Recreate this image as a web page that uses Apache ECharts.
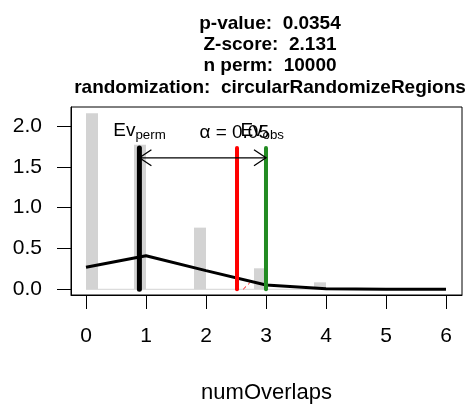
<!DOCTYPE html>
<html><head><meta charset="utf-8">
<script src="https://cdn.jsdelivr.net/npm/echarts@6/dist/echarts.min.js"></script>
<style>html,body{margin:0;padding:0;background:#fff}#c{width:469px;height:407px}</style>
</head><body><div id="c"></div>
<script>
// ---- data ----
const titleLines = ['p-value:  0.0354', 'Z-score:  2.131', 'n perm:  10000', 'randomization:  circularRandomizeRegions'];
const xTicks = [0, 1, 2, 3, 4, 5, 6];
const yTicks = [0, 0.5, 1, 1.5, 2];
const binStart = [0, 0.8, 1.8, 2.8, 3.8];
const binEnd = [0.2, 1.0, 2.0, 3.0, 4.0];
const density = [2.155, 1.77, 0.755, 0.257, 0.085];
const histRange = [0, 4];
const normX = [0, 1, 2, 3, 4, 5, 6];
const normY = [0.27, 0.41, 0.228, 0.052, 0.006, 0.0003, 0];
const evPerm = 0.89;
const alphaX = 2.517;
const evObs = 3.0;
const segTop = 1.73;
const arrowY = 1.61;
const redDashX = [2.62, 2.73];
const redDashY = [0.0, 0.08];
const labels = [
  {main: 'Ev', sub: 'perm', x: 0.892, y: 1.94},
  {main: 'α = 0.05', sub: '', x: 2.47, y: 1.92},
  {main: 'Ev', sub: 'obs', x: 2.937, y: 1.94}
];
const xName = 'numOverlaps';

// ---- chart ----
const FONT = 'Liberation Sans, Arial, Helvetica, sans-serif';
const chart = echarts.init(document.getElementById('c'), null, {renderer: 'canvas'});
const mctx = document.createElement('canvas').getContext('2d');
function tw(t, fs) { mctx.font = fs + 'px "Liberation Sans"'; return mctx.measureText(t).width; }

const option = {
  animation: false,
  backgroundColor: '#fff',
  title: {
    text: titleLines.join('\n'),
    left: 265, top: 8, textAlign: 'center',
    textStyle: {fontFamily: FONT, fontWeight: 'bold', fontSize: 19, lineHeight: 21.3, color: '#000'}
  },
  grid: {left: 71, right: 7, top: 107, bottom: 112, show: true, borderColor: '#000', borderWidth: 1, backgroundColor: 'transparent'},
  xAxis: {
    type: 'value', min: -0.25, max: 6.267,
    axisLine: {show: true, onZero: false, lineStyle: {color: '#000', width: 1}}, splitLine: {show: false},
    axisTick: {show: true, customValues: xTicks, length: 14, lineStyle: {color: '#000', width: 1}},
    axisLabel: {show: true, customValues: xTicks, fontSize: 21, fontFamily: FONT, color: '#000', margin: 31},
    name: xName, nameLocation: 'middle', nameGap: 87,
    nameTextStyle: {fontSize: 22, fontFamily: FONT, color: '#000'}
  },
  yAxis: {
    type: 'value', min: -0.07, max: 2.232,
    axisLine: {show: true, onZero: false, lineStyle: {color: '#000', width: 1}}, splitLine: {show: false},
    axisTick: {show: true, customValues: yTicks, length: 14, lineStyle: {color: '#000', width: 1}},
    axisLabel: {show: true, customValues: yTicks, fontSize: 21, fontFamily: FONT, color: '#000', margin: 29,
      formatter: v => v.toFixed(1)}
  },
  series: [
    { // histogram
      type: 'custom', z: 1, silent: true,
      data: binStart.map((s, i) => [s, binEnd[i], density[i]]),
      renderItem: (params, api) => {
        const p0 = api.coord([api.value(0), api.value(2)]);
        const p1 = api.coord([api.value(1), 0]);
        return {type: 'rect', shape: {x: p0[0], y: p0[1], width: p1[0] - p0[0], height: p1[1] - p0[1]},
          style: {fill: '#d3d3d3'}};
      }
    },
    { // hist baseline
      type: 'line', z: 1, silent: true, symbol: 'none',
      data: [[histRange[0], 0], [histRange[1], 0]],
      lineStyle: {color: '#d3d3d3', width: 1}
    },
    { // red dashed
      type: 'line', z: 2, silent: true, symbol: 'none',
      data: redDashX.map((x, i) => [x, redDashY[i]]),
      lineStyle: {color: '#ff0000', width: 1, type: [4, 3]}
    },
    { // normal curve
      type: 'line', z: 3, silent: true, symbol: 'none',
      data: normX.map((x, i) => [x, normY[i]]),
      lineStyle: {color: '#000', width: 3}
    },
    {type: 'line', z: 4, silent: true, symbol: 'none', data: [[evPerm, 0], [evPerm, segTop]],
      lineStyle: {color: '#000', width: 5, cap: 'round'}},
    {type: 'line', z: 4, silent: true, symbol: 'none', data: [[alphaX, 0], [alphaX, segTop]],
      lineStyle: {color: '#ff0000', width: 4, cap: 'round'}},
    {type: 'line', z: 4, silent: true, symbol: 'none', data: [[evObs, 0], [evObs, segTop]],
      lineStyle: {color: '#228b22', width: 4, cap: 'round'}},
    { // arrow
      type: 'custom', z: 5, silent: true,
      data: [[evPerm, evObs, arrowY]],
      renderItem: (params, api) => {
        const a = api.coord([api.value(0), api.value(2)]);
        const b = api.coord([api.value(1), api.value(2)]);
        const L = 12, H = 8;
        const st = {stroke: '#000', lineWidth: 1.3, fill: null};
        return {type: 'group', children: [
          {type: 'line', shape: {x1: a[0], y1: a[1], x2: b[0], y2: b[1]}, style: st},
          {type: 'polyline', shape: {points: [[a[0] + L, a[1] - H], [a[0], a[1]], [a[0] + L, a[1] + H]]}, style: st},
          {type: 'polyline', shape: {points: [[b[0] - L, b[1] - H], [b[0], b[1]], [b[0] - L, b[1] + H]]}, style: st}
        ]};
      }
    },
    { // labels
      type: 'custom', z: 6, silent: true,
      data: labels.map((l, i) => [l.x, l.y, i]),
      renderItem: (params, api) => {
        const l = labels[api.value(2)];
        const p = api.coord([api.value(0), api.value(1)]);
        const fm = 19, fsb = 13.3;
        const w1 = tw(l.main, fm), w2 = l.sub ? tw(l.sub, fsb) : 0;
        const x0 = p[0] - (w1 + w2) / 2;
        const ch = [{type: 'text', x: x0, y: p[1], style: {text: l.main, fontSize: fm, fontFamily: FONT, fill: '#000', align: 'left', verticalAlign: 'middle'}}];
        if (l.sub) ch.push({type: 'text', x: x0 + w1, y: p[1] + 4, style: {text: l.sub, fontSize: fsb, fontFamily: FONT, fill: '#000', align: 'left', verticalAlign: 'middle'}});
        return {type: 'group', children: ch};
      }
    }
  ]
};
chart.setOption(option);
</script></body></html>
